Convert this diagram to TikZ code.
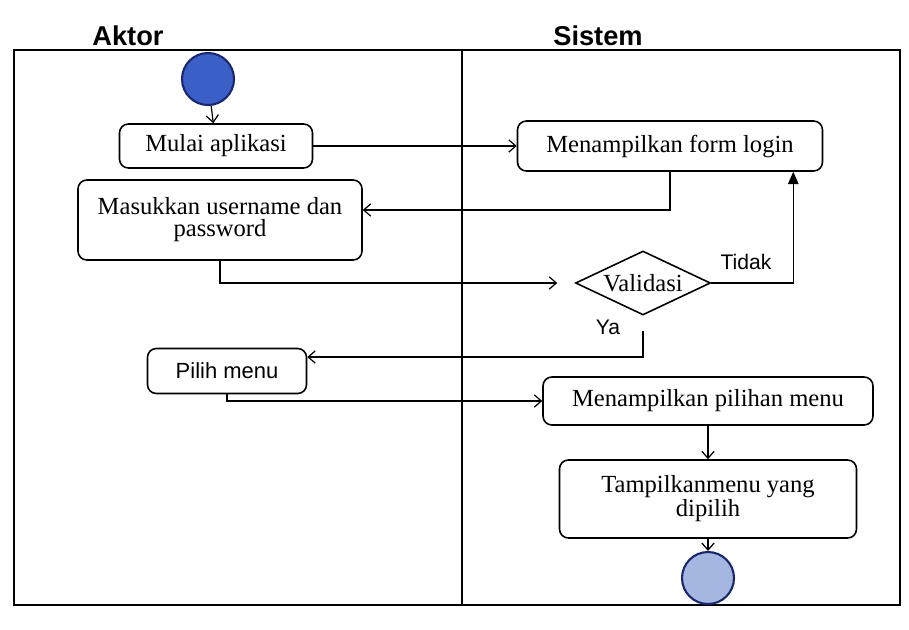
\documentclass[tikz,border=0pt]{standalone}
\usepackage{fontspec}
\setmainfont{Liberation Serif}
\setsansfont{Liberation Sans}
\usetikzlibrary{shapes.geometric,arrows.meta}

\definecolor{startblue}{RGB}{58,96,200}
\definecolor{endblue}{RGB}{165,182,225}
\definecolor{dotline}{RGB}{25,40,110}

\begin{document}
\begin{tikzpicture}[x=0.02cm,y=-0.02cm,
	act/.style={rectangle,rounded corners=5pt,draw,line width=0.9pt,align=center,font=\fontsize{14}{12.5}\selectfont,inner sep=2pt},
	dot/.style={circle,draw=dotline,line width=1.2pt,minimum size=1.04cm,inner sep=0pt},
	flow/.style={line width=0.7pt,-{Straight Barb[length=4pt,width=7pt]}},
	lbl/.style={font=\sffamily\fontsize{12}{12}\selectfont},
	lanelbl/.style={font=\sffamily\bfseries\fontsize{15.5}{16}\selectfont}]
	\useasboundingbox (0,0) rectangle (909,629);

	% lanes
	\draw[line width=0.9pt] (14,50) rectangle (900,605);
	\draw[line width=0.9pt] (462,50) -- (462,605);
	\node[lanelbl] (aktor) at (128,36) {Aktor};
	\node[lanelbl] (sistem) at (598,36) {Sistem};

	% actions
	\node[dot,fill=startblue] (start) at (208,79) {};
	\node[act,minimum width=3.86cm,minimum height=0.88cm] (mulai) at (216,146) {Mulai aplikasi};
	\node[act,minimum width=5.68cm,minimum height=1.6cm] (masuk) at (220,220) {Masukkan username dan\\password};
	\node[act,minimum width=6.1cm,minimum height=1cm] (form) at (670,146) {Menampilkan form login};
	\node[diamond,draw,line width=0.9pt,aspect=2.1,inner sep=0pt,minimum width=2.7cm,minimum height=1.28cm,font=\fontsize{14}{13}\selectfont] (valid) at (643,283) {Validasi};
	\node[act,minimum width=3.18cm,minimum height=0.9cm,font=\sffamily\fontsize{12.5}{13}\selectfont] (pilih) at (227,371) {Pilih menu};
	\node[act,minimum width=6.6cm,minimum height=0.96cm] (pilihan) at (708,401) {Menampilkan pilihan menu};
	\node[act,minimum width=5.94cm,minimum height=1.56cm] (tampil) at (708,499) {Tampilkanmenu yang\\dipilih};
	\node[dot,fill=endblue] (end) at (708,578) {};

	\node[lbl] (tidak) at (746,262) {Tidak};
	\node[lbl] (ya) at (608,327) {Ya};

	% flows
	\draw[flow] (start) -- (mulai);
	\draw[flow] (mulai) -- (form);
	\draw[flow] (form.south) |- ([yshift=0.2cm]masuk.east);
	\draw[flow,shorten >=0.35cm] (masuk.south) |- (valid.west);
	\draw[line width=0.7pt,-{Triangle[length=7pt,width=6pt]}] (valid.east) -| ([xshift=-0.6cm]form.south east);
	\draw[flow,shorten <=0.3cm] (valid.south) |- ([yshift=0.28cm]pilih.east);
	\draw[flow] (pilih.south) |- (pilihan.west);
	\draw[flow] (pilihan) -- (tampil);
	\draw[flow] (tampil) -- (end);
\end{tikzpicture}
\end{document}
